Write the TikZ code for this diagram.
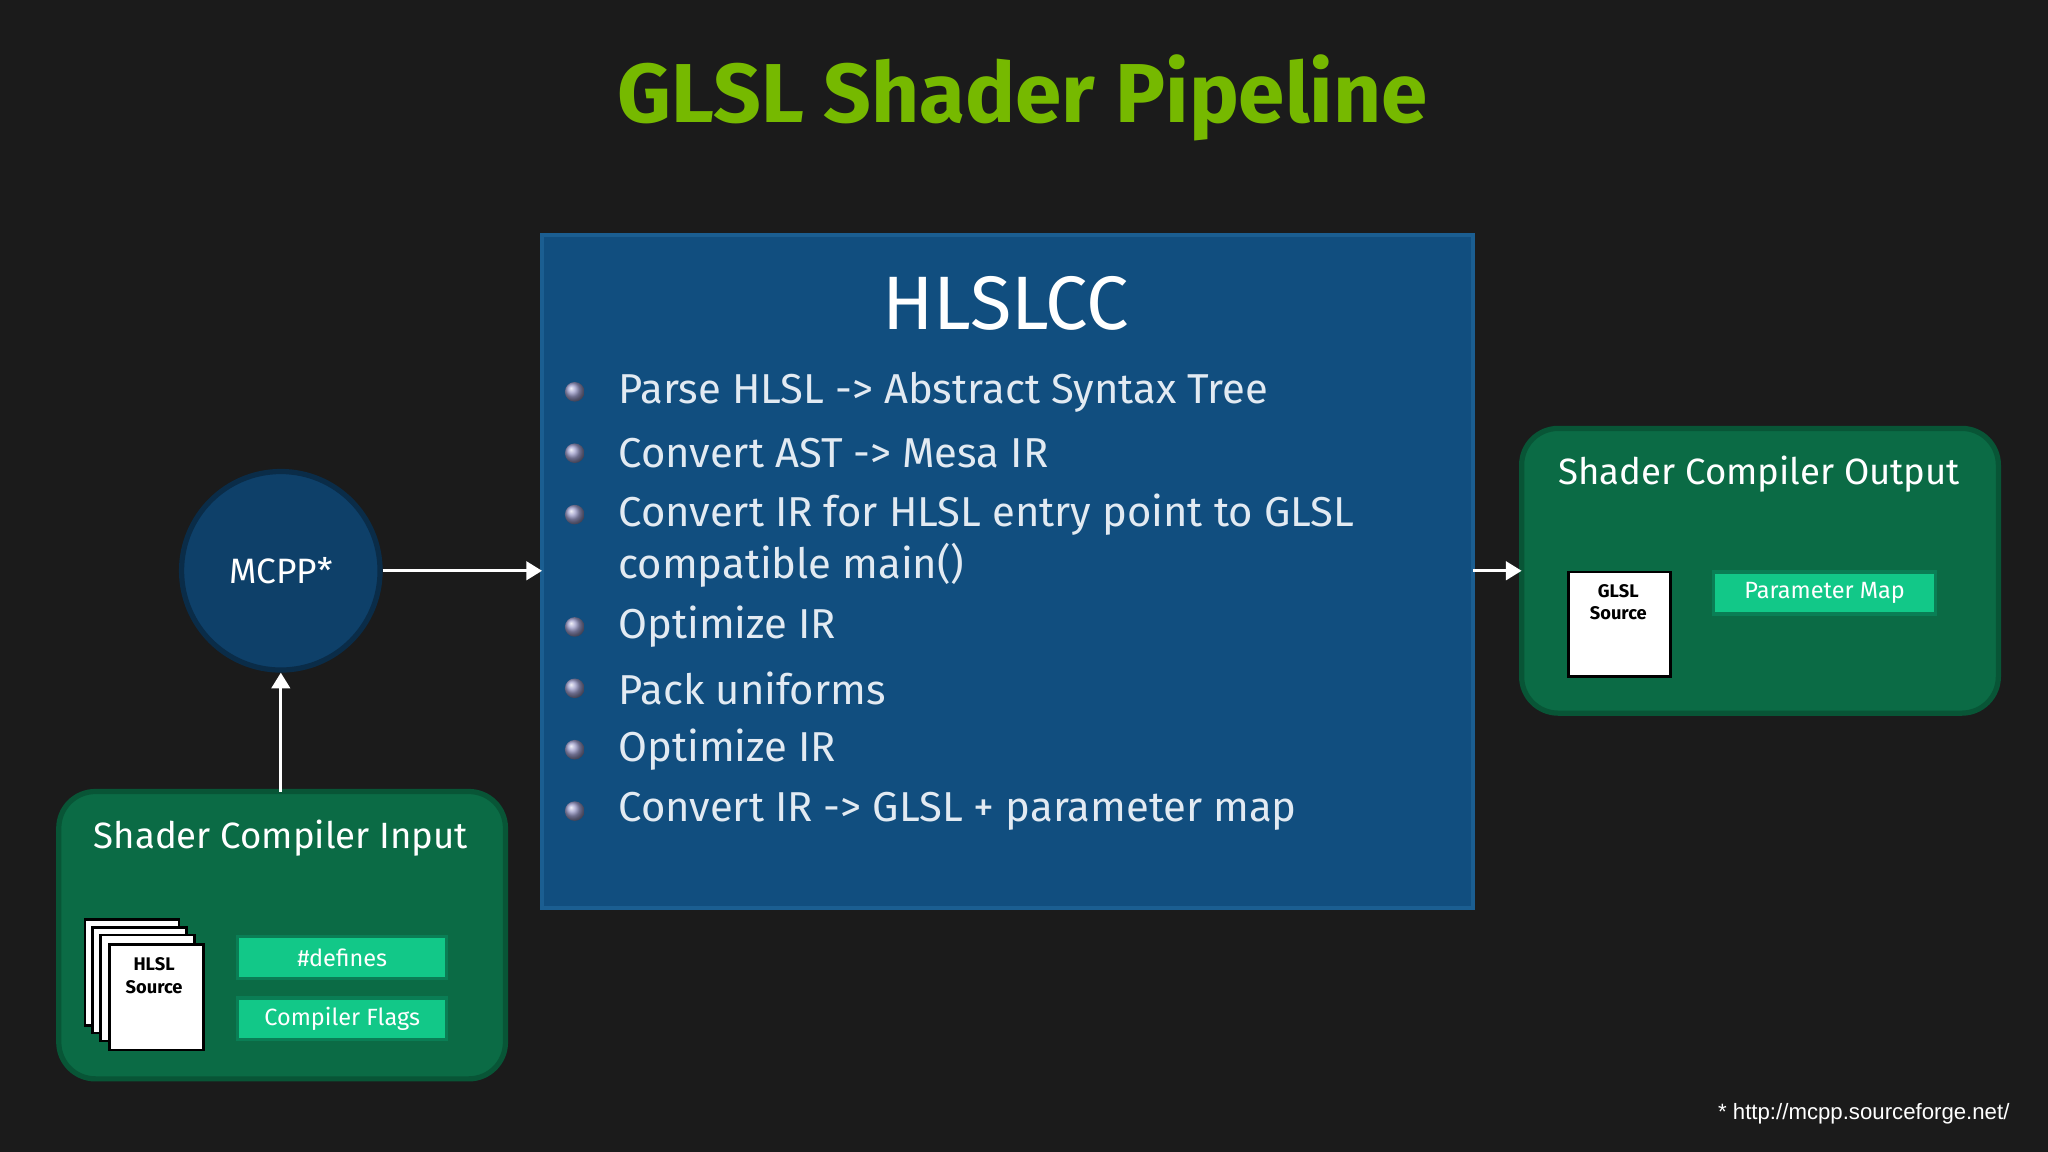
\documentclass[tikz,border=0pt]{standalone}
\usepackage{fontspec}
\setmainfont{Fira Sans}
\newfontfamily\arialfont{Liberation Sans}
\usetikzlibrary{arrows.meta}
\definecolor{bgc}{HTML}{1B1B1B}
\definecolor{nvgreen}{HTML}{76B900}
\definecolor{boxblue}{HTML}{114E7F}
\definecolor{boxblueb}{HTML}{1B5E91}
\definecolor{circblue}{HTML}{0E4069}
\definecolor{circb}{HTML}{0A2C48}
\definecolor{panelg}{HTML}{0B6B45}
\definecolor{panelgb}{HTML}{085536}
\definecolor{btn}{HTML}{12C888}
\definecolor{btnb}{HTML}{0A7E55}
\definecolor{bultext}{HTML}{E2EAF2}
\tikzset{
  x=1pt,y=-1pt,
  panel/.style={draw=panelgb,line width=4pt,fill=panelg,rounded corners=28pt},
  btnbox/.style={draw=btnb,line width=2.5pt,fill=btn,text=white,font=\fontsize{18}{20}\selectfont,inner sep=0pt},
  page/.style={draw=black,line width=2pt,fill=white},
  arr/.style={draw=white,line width=2.5pt,-{Triangle[length=12pt,width=14pt]}},
  bul/.style={circle,minimum size=15pt,inner sep=0pt,ball color=gray!70!blue!60},
  btxt/.style={anchor=west,text=bultext,font=\fontsize{32}{38}\selectfont},
  ptitle/.style={text=white,font=\fontsize{28}{32}\selectfont}
}
\begin{document}
\begin{tikzpicture}
\fill[bgc] (0,0) rectangle (1568,882);
\useasboundingbox (0,0) rectangle (1568,882);
\node[text=nvgreen,font=\bfseries\fontsize{64}{70}\selectfont] (title) at (783,75) {GLSL Shader Pipeline};
% HLSLCC box
\draw[draw=boxblueb,line width=3pt,fill=boxblue] (415,180) rectangle (1128,695);
\coordinate (hl) at (415,437); \coordinate (hr) at (1128,437);
\node[text=white,font=\fontsize{58}{64}\selectfont] (hlslcc) at (770,232) {HLSLCC};
\foreach \y/\t [count=\i] in {300/{Parse HLSL -> Abstract Syntax Tree},347/{Convert AST -> Mesa IR},394/{Convert IR for HLSL entry point to GLSL},480/{Optimize IR},527/{Pack uniforms},574/{Optimize IR},621/{Convert IR -> GLSL + parameter map}}{
  \node[bul] (b\i) at (440,\y) {};
  \node[btxt] (t\i) at (470,\y) {\t};
}
\node[btxt] (t3b) at (470,433) {compatible main()};
% MCPP
\node[circle,draw=circb,line width=4pt,fill=circblue,minimum size=152pt,text=white,font=\fontsize{27}{30}\selectfont] (mcpp) at (215,437) {MCPP*};
\draw[arr] (mcpp.east) -- (hl);
% input panel
\draw[panel] (45,606) rectangle (387,826);
\coordinate (intop) at (215,606);
\node[ptitle] (intitle) at (215,642) {Shader Compiler Input};
\draw[arr] (intop) -- (mcpp.south);
\foreach \d in {18,12,6}{\draw[page] (83-\d,722-\d) rectangle (155-\d,803-\d);}
\node[page,minimum width=72pt,minimum height=81pt,anchor=north west,inner sep=0pt] (hsrc) at (83,722) {};
\node[align=center,font=\bfseries\fontsize{14}{17}\selectfont] (hsrct) at (118,747) {HLSL\\Source};
\node[btnbox,minimum width=160pt,minimum height=32pt] (defs) at (262,733) {\#defines};
\node[btnbox,minimum width=160pt,minimum height=32pt] (flags) at (262,780) {Compiler Flags};
% output panel
\draw[panel] (1165,328) rectangle (1530,546);
\coordinate (outl) at (1165,437);
\node[ptitle] (outtitle) at (1347,363) {Shader Compiler Output};
\draw[arr] (hr) -- (outl);
\node[page,minimum width=78pt,minimum height=80pt,anchor=north west,inner sep=0pt] (gsrc) at (1200,437) {};
\node[align=center,font=\bfseries\fontsize{14}{17}\selectfont] (gsrct) at (1239,461) {GLSL\\Source};
\node[btnbox,minimum width=170pt,minimum height=32pt] (pmap) at (1397,454) {Parameter Map};
\node[anchor=east,text=white,font=\arialfont\fontsize{17}{20}\selectfont] (foot) at (1542,853) {* http://mcpp.sourceforge.net/};
\end{tikzpicture}
\end{document}
